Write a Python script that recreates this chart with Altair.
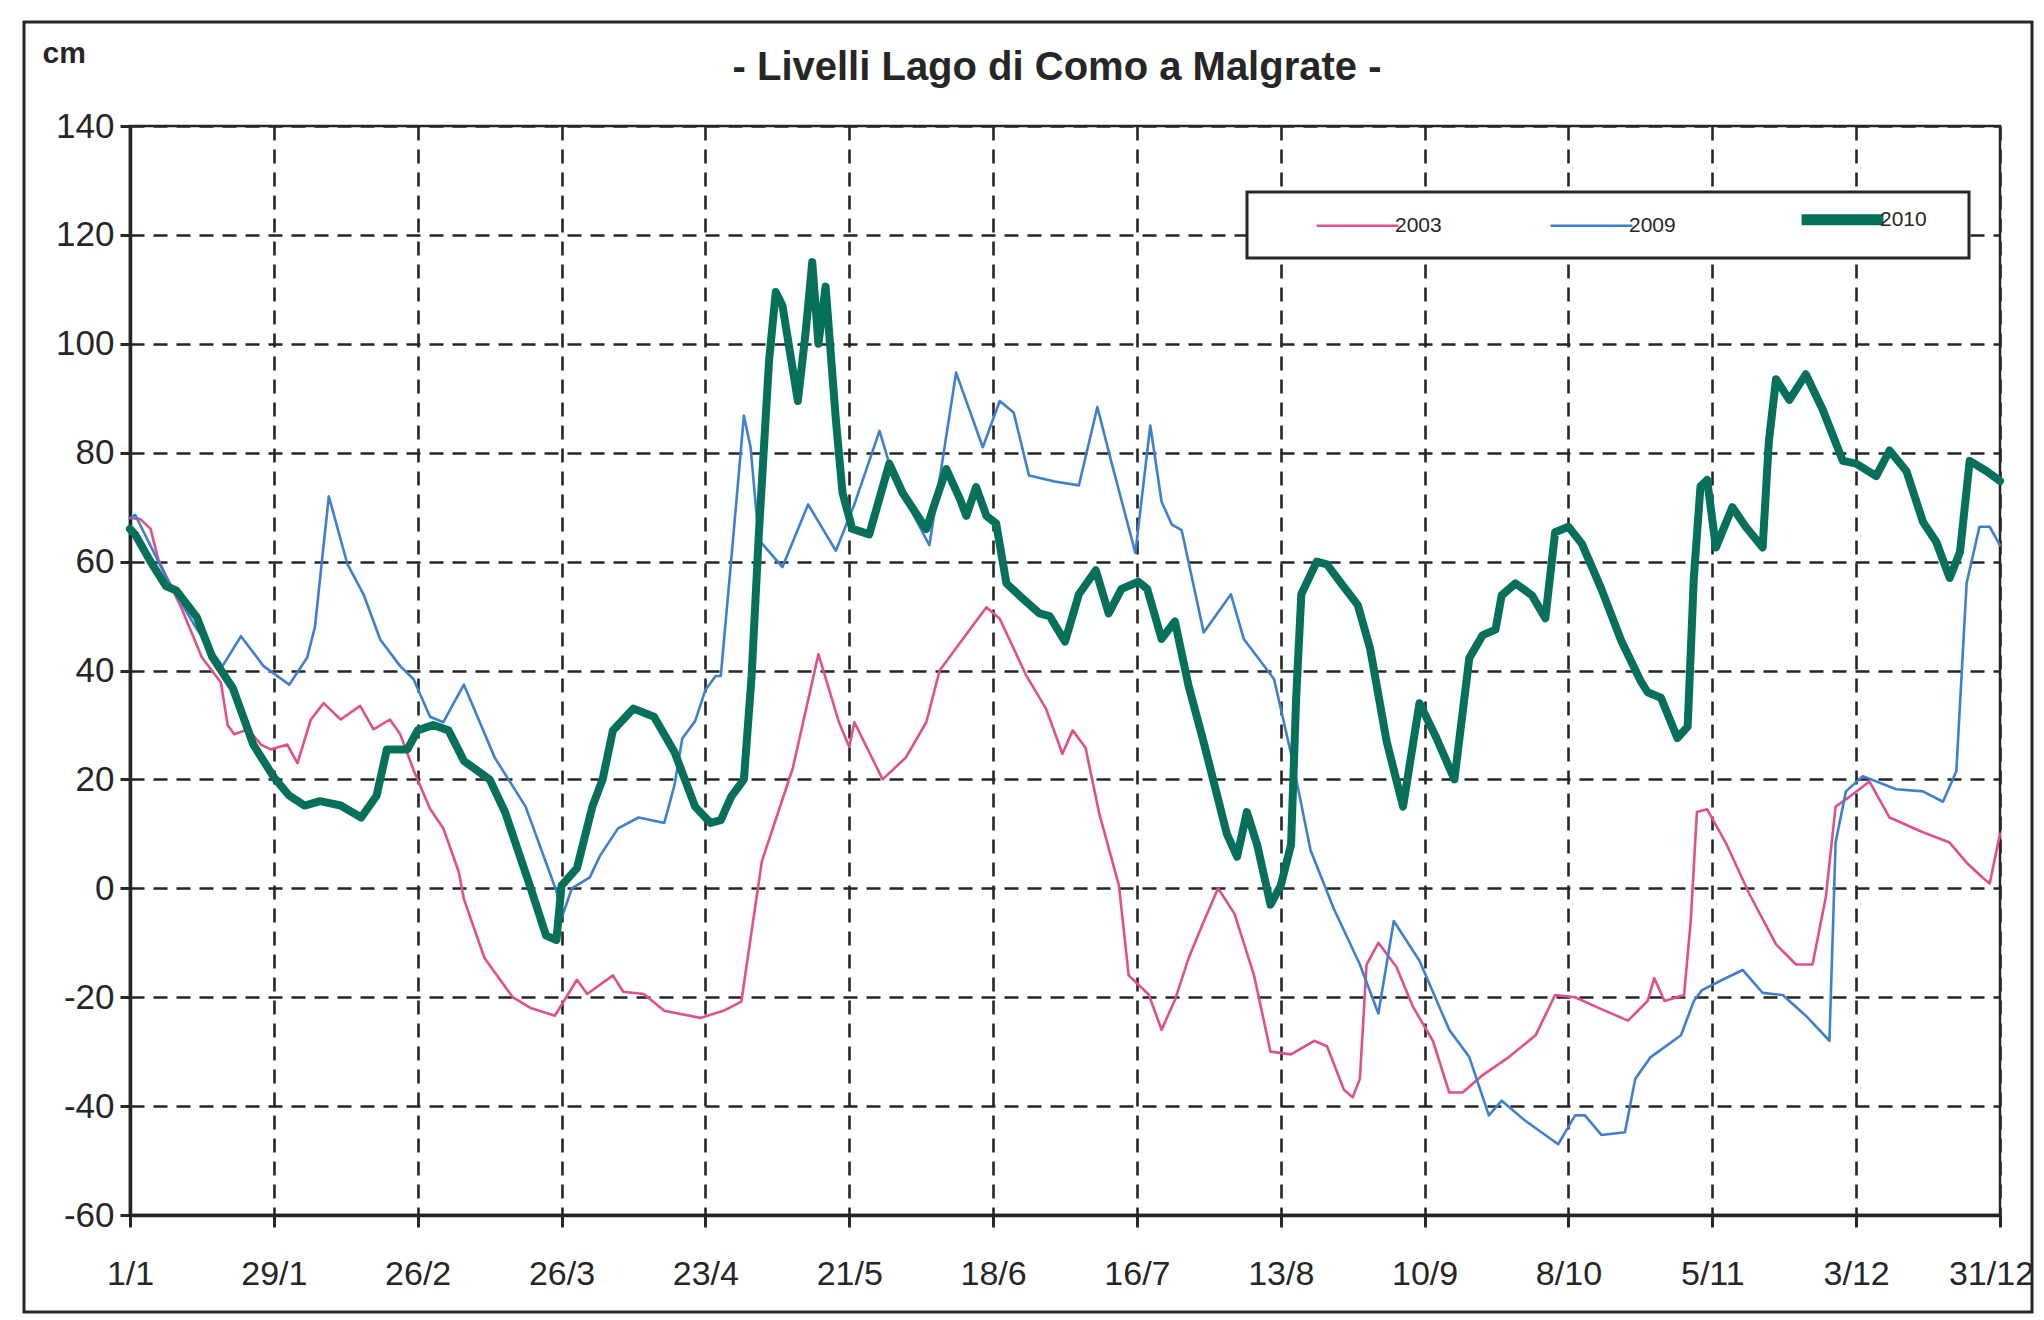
import altair as alt
import pandas as pd

# ---- axis ticks -------------------------------------------------------
tick_days = list(range(0, 365, 28))
tick_labels = ['1/1', '29/1', '26/2', '26/3', '23/4', '21/5', '18/6', '16/7',
               '13/8', '10/9', '8/10', '5/11', '3/12', '31/12']
y_ticks = list(range(-60, 141, 20))

chart_title = '- Livelli Lago di Como a Malgrate -'
series_names = ['2003', '2009', '2010']
series_colors = ['#e0508c', '#3f7fd0', '#07705a']
series_widths = [2.6, 2.6, 8]

# ---- 2003 (pink) ------------------------------------------------------
days_2003 = [0, 2, 4, 5.5, 10, 14, 17.7, 19, 20.3, 23, 25.5, 27.4, 30.6, 32.6, 35.2, 37.7, 41, 44.8,
             47.4, 50.6, 52.6, 55.2, 58.4, 61, 64, 65, 69, 74.5, 78, 82.7, 87, 89, 94, 96, 100, 104,
             111, 115.5, 119, 123, 129, 134, 138, 140, 141, 146.5, 151, 155, 157.6, 161.5, 166.7,
             169.3, 174.5, 178.3, 181.5, 183.5, 186, 188.6, 192.5, 194.4, 198.3, 200.8, 203.4, 206,
             208.6, 211.8, 215, 218.8, 222, 226, 230.5, 233, 236.3, 238, 239.4, 240.7, 243, 246.5,
             249.7, 253.6, 256.8, 259.4, 263.3, 268.4, 273.6, 277.4, 281.3, 286.4, 291.6, 295.4,
             296.7, 298.7, 302.5, 303.8, 305, 307, 310.6, 315.2, 320.4, 324.3, 327.5, 330.1, 332,
             334.7, 338.6, 342.5, 349, 354.2, 357.5, 360.7, 362, 364]
cm_2003 = [68, 67.8, 66, 60.4, 51.5, 42.4, 37.8, 30, 28.3, 29.2, 26.4, 25.5, 26.4, 23, 31, 34, 31, 33.5,
           29.2, 31, 28.3, 21.7, 14.6, 11, 3, -2, -12.8, -20, -22, -23.4, -16.8, -19.4, -16, -19, -19.4,
           -22.5, -23.8, -22.5, -20.8, 5, 22, 43, 30.5, 26, 30.5, 20, 24, 30.5, 40, 45, 51.6,
           49.5, 39, 33, 24.7, 29, 25.8, 14, 0.5, -16, -19.5, -26, -20.5, -13,
           -7, 0, -4.7, -16, -30, -30.5, -28, -29, -37, -38.4, -35, -14, -10, -14.4,
           -21.7, -28, -37.5, -37.5, -34.3, -31, -27, -19.6, -20, -22.2, -24.3, -20.7,
           -16.5, -20.7, -19.6, -6, 14, 14.5, 8.4, -1, -10.3, -14, -14, -1.6, 15,
           16.8, 19.6, 13, 10.3, 8.4, 4.7, 1.9, 0.9, 10]

# ---- 2009 (blue) ------------------------------------------------------
days_2009 = [0, 1, 7, 13, 18, 21.6, 26, 31, 34.5, 36, 38.7, 42.3, 45.5, 48.7, 52.6, 55.2, 58.4, 61, 63,
             65, 71, 77, 83, 84, 86, 89.5, 91.5, 95, 99, 104, 106, 107.5, 110, 112, 114, 115, 117,
             119.5, 120.8, 122.4, 127, 132, 137.4, 141, 145.9, 148.5, 155.6, 160.8, 166, 169.3,
             172, 175, 180, 184.7, 188.3, 191, 195.7, 198.6, 200.8, 202.8, 204.7, 209, 214.3,
             216.8, 222.7, 226, 229.8, 234.3, 239.4, 243, 246, 251, 256.8, 260.7, 264.5, 267,
             271.6, 278, 281.3, 283.2, 286.4, 291, 293, 296, 301.9, 304.4, 306, 310, 313.9,
             317.8, 321.7, 326.2, 330.8, 332, 334, 337.3, 343.8, 349, 352.9, 355.5, 357.5, 360,
             362, 364]
cm_2009 = [68, 68.6, 57.2, 47.6, 40.8, 46.3, 40.8, 37.4, 42.4, 48, 72, 59.6, 53.9, 45.7, 40.8, 38.4,
           31.5, 30.5, 34, 37.4, 24, 15, -0.5, -5.5, 0, 2, 6, 11, 13, 12, 19, 27.5, 30.7, 36.4, 39,
           39, 60, 86.8, 81, 64, 59, 70.5, 62, 70.5, 84, 75.8, 63, 94.7, 81, 89.5,
           87.4, 75.8, 74.7, 74, 88.4, 78.4, 61.6, 85, 71, 66.8, 65.8, 47, 54,
           45.8, 38.4, 24.7, 7, -3.7, -14, -23, -6, -13.3, -26, -31, -41.7, -39,
           -42.7, -47, -41.7, -41.7, -45.3, -44.8, -35, -31, -27, -20.7, -18.7, -16.8, -15,
           -19.2, -19.6, -23.4, -28, 8.4, 17.8, 20.6, 18.2, 17.8, 15.9, 21.5, 56, 66.4,
           66.4, 63]

# ---- 2010 (green) -----------------------------------------------------
days_2010 = [0, 1, 4, 7, 9, 13, 16, 20, 24, 28, 31, 34, 37, 41, 45, 48, 50, 54, 56, 59, 62, 65, 70,
             73, 78, 81, 83, 84, 87, 90, 92, 94, 98, 102, 106, 110, 113, 115, 117, 119.5, 121,
             122.4, 124.4, 125.7, 127, 130, 131.5, 132.8, 134, 135.4, 137.4, 138.7, 140.6, 143.9,
             147.8, 150.4, 155, 158.9, 161.5, 162.8, 164.7, 166.7, 168.6, 170.6, 173.2, 177, 179,
             182, 184.7, 188, 190.5, 193, 196.3, 198, 200.8, 203.4, 206, 209, 213.5, 215.5, 217.4,
             219.4, 222, 224, 226, 227, 228, 231, 233, 235.5, 239, 241.4, 244.6, 247.8, 251,
             254.3, 257.8, 260.7, 263.3, 265.8, 267, 269.7, 272.9, 275.5, 277.4, 280, 282.6,
             286.4, 290.3, 294.1, 295.4, 298, 301.2, 303.2, 304.4, 305.7, 307, 308.7, 311.9,
             314.5, 317.8, 319, 320.4, 323, 326.2, 329.5, 333.4, 336, 339.9, 342.5, 345.8, 349,
             351.6, 354.2, 356.2, 358.1, 361.4, 364]
cm_2010 = [66, 65, 60, 55.5, 54.7, 49.8, 42.5, 36.8, 26.4, 20.4, 17, 15.2, 16, 15.2, 13, 17, 25.5,
           25.5, 29, 30, 29, 23.4, 20, 14, 0, -8.7, -9.5, 0.5, 3.7, 15, 20, 29, 33, 31.5, 25, 15, 12,
           12.5, 16.8, 20, 39, 65, 97, 109.5, 107, 89.5, 102, 115, 100, 110.5, 86, 72.6, 66, 65,
           78, 72.6, 66, 77, 71.6, 68.4, 73.7, 68.4, 67, 56, 53.7, 50.5, 50,
           45.3, 54, 58.4, 50.5, 55, 56.3, 55, 45.8, 49, 37.4, 26.8, 10, 5.8, 14,
           8, -3, 0.5, 8, 35, 54, 60, 59.5, 56.3, 52, 44, 27, 15, 34,
           27.6, 20, 42.3, 46.5, 47.5, 53.8, 56, 53.8, 49.6, 65.4, 66.4, 63.3,
           55, 45.4, 38, 36, 35, 27.6, 29.7, 57, 73.8, 75, 62.6, 70,
           66.4, 62.6, 82, 93.5, 89.7, 94.4, 87.9, 78.5, 78, 75.7, 80.4, 76.6, 67.3,
           63.6, 57, 61.7, 78.5, 76.6, 74.8]

rows = []
for name, ds, vs in [('2003', days_2003, cm_2003), ('2009', days_2009, cm_2009),
                     ('2010', days_2010, cm_2010)]:
    for i, (d, v) in enumerate(zip(ds, vs)):
        rows.append({'serie': name, 'giorno': d, 'cm': v, 'ordine': i})
df = pd.DataFrame(rows)

FONT = 'Liberation Sans'
INK = '#262626'

label_expr = '[' + ','.join("'" + t + "'" for t in tick_labels) + '][round(datum.value / 28)]'

x_enc = alt.X('giorno:Q',
              scale=alt.Scale(domain=[0, 364], nice=False, zero=False),
              axis=alt.Axis(values=tick_days, labelExpr=label_expr, title=None,
                            grid=True, gridDash=[14, 9], gridColor=INK, gridWidth=2.6,
                            domainColor=INK, domainWidth=3.5, tickColor=INK, tickWidth=3,
                            tickSize=12, labelPadding=30, labelFontSize=34, labelColor=INK,
                            labelFont=FONT, labelOverlap=False, labelBound=False,
                            labelFlush=False,
                            labelOffset={'expr': 'datum.value == 364 ? -9 : 0'}))
y_enc = alt.Y('cm:Q',
              scale=alt.Scale(domain=[-60, 140], nice=False, zero=False),
              axis=alt.Axis(values=y_ticks, labelExpr="'' + datum.value",
                            title='cm', titleAngle=0, titleX=-88, titleY=-73,
                            titleAlign='left', titleBaseline='middle', titleFontSize=30,
                            titleFont=FONT, titleFontWeight='bold', titleColor=INK,
                            grid=True, gridDash=[14, 9], gridColor=INK, gridWidth=2.6,
                            domainColor=INK, domainWidth=3.5, tickColor=INK, tickWidth=3,
                            tickSize=10, labelPadding=6, labelFontSize=35, labelColor=INK,
                            labelFont=FONT, labelOverlap=False, labelBound=False,
                            labelFlush=False))
color_enc = alt.Color('serie:N',
                      scale=alt.Scale(domain=series_names, range=series_colors),
                      legend=alt.Legend(title=None, orient='none', legendX=1217, legendY=83,
                                        direction='horizontal', columns=3, columnPadding=103,
                                        symbolType='stroke', symbolSize=6700,
                                        symbolStrokeWidth={'expr': "datum.value == '2010' ? 11 : 2.6"},
                                        labelFontSize=21, labelFont=FONT, labelColor=INK,
                                        labelOffset=27, padding=0))

line_layers = []
for name, w in zip(series_names, series_widths):
    line_layers.append(
        alt.Chart(df).transform_filter(alt.datum.serie == name)
        .mark_line(strokeWidth=w, strokeJoin='round', strokeCap='round')
        .encode(x=x_enc, y=y_enc, color=color_enc, order='ordine:Q'))

one = pd.DataFrame({'k': [0]})
frame = alt.Chart(one).mark_rect(filled=False, stroke=INK, strokeWidth=3).encode(
    x=alt.value(-106), x2=alt.value(1902), y=alt.value(-104), y2=alt.value(1186))
legend_box = alt.Chart(one).mark_rect(fill='white', stroke=INK, strokeWidth=3).encode(
    x=alt.value(1117), x2=alt.value(1839), y=alt.value(66), y2=alt.value(132))
title_text = alt.Chart(one).mark_text(font=FONT, fontSize=40, fontWeight='bold', color=INK,
                                      align='center', baseline='middle').encode(
    x=alt.value(927), y=alt.value(-58), text=alt.value(chart_title))

chart = alt.layer(frame, legend_box, title_text, *line_layers).properties(
    width=1870, height=1089,
    padding={'left': 122, 'top': 118, 'right': 36, 'bottom': 100},
    autosize=alt.AutoSizeParams(type='none'),
    background='white',
).configure_view(stroke=INK, strokeWidth=2.5)

chart.save('out.html', embed_options={'renderer': 'svg', 'actions': False})
